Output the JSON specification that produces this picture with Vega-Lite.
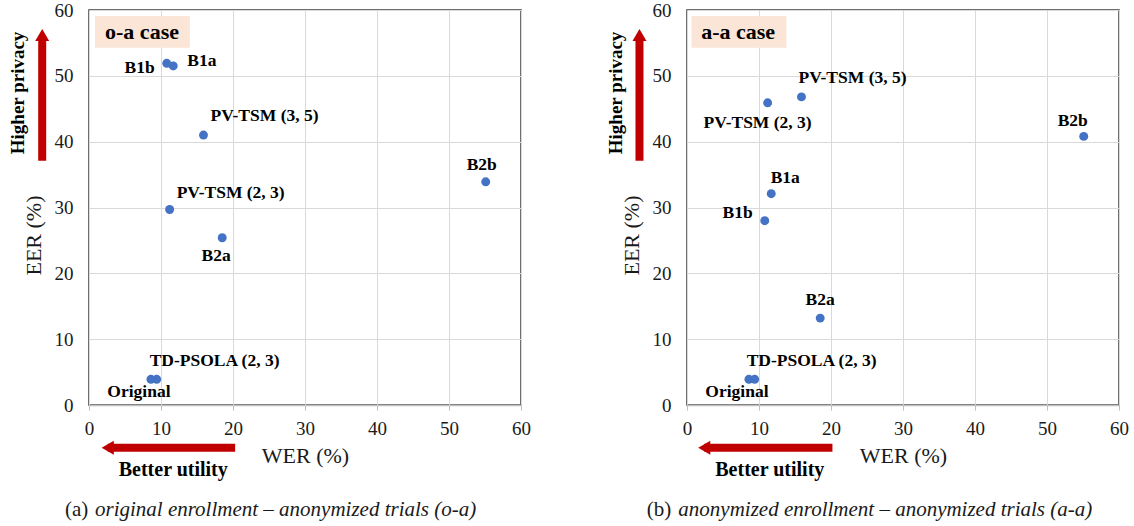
{
  "$schema": "https://vega.github.io/schema/vega-lite/v6.json",
  "padding": {"left": 7, "top": 0, "right": 0, "bottom": 0},
  "background": "white",
  "spacing": 166,
  "bounds": "flush",
  "config": {
    "font": "Liberation Serif",
    "view": {"stroke": "#404040", "strokeWidth": 1.5},
    "axis": {"labelFont": "Liberation Serif", "labelFontSize": 19, "labelColor": "#1a1a1a", "titleFont": "Liberation Serif", "titleFontSize": 22, "titleFontWeight": "normal", "titleColor": "#1a1a1a", "gridColor": "#d9d9d9", "gridWidth": 1},
    "text": {"font": "Liberation Serif", "fontSize": 17.5, "fontWeight": "bold", "color": "#000000", "baseline": "middle"}
  },
  "datasets": {
    "points": [
      {"case": "o-a", "method": "Original", "wer": 8.6, "eer": 3.9},
      {"case": "o-a", "method": "TD-PSOLA (2, 3)", "wer": 9.4, "eer": 3.9},
      {"case": "o-a", "method": "B1a", "wer": 11.7, "eer": 51.5},
      {"case": "o-a", "method": "B1b", "wer": 10.8, "eer": 51.9},
      {"case": "o-a", "method": "B2a", "wer": 18.5, "eer": 25.4},
      {"case": "o-a", "method": "B2b", "wer": 55.1, "eer": 33.9},
      {"case": "o-a", "method": "PV-TSM (2, 3)", "wer": 11.2, "eer": 29.7},
      {"case": "o-a", "method": "PV-TSM (3, 5)", "wer": 15.9, "eer": 41.0},
      {"case": "a-a", "method": "Original", "wer": 8.6, "eer": 3.9},
      {"case": "a-a", "method": "TD-PSOLA (2, 3)", "wer": 9.4, "eer": 3.9},
      {"case": "a-a", "method": "B1a", "wer": 11.7, "eer": 32.1},
      {"case": "a-a", "method": "B1b", "wer": 10.8, "eer": 28.0},
      {"case": "a-a", "method": "B2a", "wer": 18.5, "eer": 13.2},
      {"case": "a-a", "method": "B2b", "wer": 55.1, "eer": 40.8},
      {"case": "a-a", "method": "PV-TSM (2, 3)", "wer": 11.2, "eer": 45.9},
      {"case": "a-a", "method": "PV-TSM (3, 5)", "wer": 15.9, "eer": 46.8}
    ]
  },
  "hconcat": [
    {
      "width": 432, "height": 395,
      "data": {"name": "points"},
      "transform": [{"filter": "datum.case === 'o-a'"}],
      "layer": [
        {"data": {"values": [{}]}, "mark": {"type": "rect", "color": "#FBE5D6"},
         "encoding": {"x": {"datum": 0.83, "type": "quantitative", "scale": {"domain": [0, 60], "nice": false}}, "x2": {"datum": 14.0}, "y": {"datum": 59.1, "type": "quantitative", "scale": {"domain": [0, 60], "nice": false}}, "y2": {"datum": 54.25}}},
        {"data": {"values": [{}]}, "mark": {"type": "text", "text": "o-a case", "fontSize": 22, "align": "center"},
         "encoding": {"x": {"datum": 7.36, "type": "quantitative", "scale": {"domain": [0, 60], "nice": false}}, "y": {"datum": 56.7, "type": "quantitative", "scale": {"domain": [0, 60], "nice": false}}}},
        {"mark": {"type": "circle", "size": 80, "color": "#4472C4", "opacity": 1},
         "encoding": {
           "x": {"field": "wer", "type": "quantitative", "scale": {"domain": [0, 60], "nice": false},
                 "axis": {"title": "WER (%)", "values": [0, 10, 20, 30, 40, 50, 60], "tickSize": 5, "tickColor": "#bfbfbf", "domainColor": "#bfbfbf", "domainWidth": 1.5, "labelPadding": 9, "titlePadding": 7, "labelAngle": 0, "labelFlush": false, "labelOverlap": false, "grid": true, "labelFont": "Liberation Serif", "labelFontSize": 19, "labelColor": "#1a1a1a", "titleFont": "Liberation Serif", "titleFontSize": 22, "titleFontWeight": "normal", "titleColor": "#1a1a1a"}},
           "y": {"field": "eer", "type": "quantitative", "scale": {"domain": [0, 60], "nice": false},
                 "axis": {"title": "EER (%)", "values": [0, 10, 20, 30, 40, 50, 60], "ticks": false, "tickSize": 0, "domain": false, "labelPadding": 16, "titlePadding": 9, "titleY": 225, "labelFlush": false, "labelOverlap": false, "grid": true, "labelFont": "Liberation Serif", "labelFontSize": 19, "labelColor": "#1a1a1a", "titleFont": "Liberation Serif", "titleFontSize": 22, "titleFontWeight": "normal", "titleColor": "#1a1a1a", "titleLimit": 300}}
         }},
        {"transform": [{"filter": "datum.method === 'Original'"}], "mark": {"type": "text", "align": "center", "dx": -12, "dy": 13},
         "encoding": {"x": {"field": "wer", "type": "quantitative", "scale": {"domain": [0, 60], "nice": false}}, "y": {"field": "eer", "type": "quantitative", "scale": {"domain": [0, 60], "nice": false}}, "text": {"field": "method"}}},
        {"transform": [{"filter": "datum.method === 'TD-PSOLA (2, 3)'"}], "mark": {"type": "text", "align": "left", "dx": -7, "dy": -18},
         "encoding": {"x": {"field": "wer", "type": "quantitative", "scale": {"domain": [0, 60], "nice": false}}, "y": {"field": "eer", "type": "quantitative", "scale": {"domain": [0, 60], "nice": false}}, "text": {"field": "method"}}},
        {"transform": [{"filter": "datum.method === 'B1b'"}], "mark": {"type": "text", "align": "right", "dx": -12, "dy": 5},
         "encoding": {"x": {"field": "wer", "type": "quantitative", "scale": {"domain": [0, 60], "nice": false}}, "y": {"field": "eer", "type": "quantitative", "scale": {"domain": [0, 60], "nice": false}}, "text": {"field": "method"}}},
        {"transform": [{"filter": "datum.method === 'B1a'"}], "mark": {"type": "text", "align": "left", "dx": 14, "dy": -5},
         "encoding": {"x": {"field": "wer", "type": "quantitative", "scale": {"domain": [0, 60], "nice": false}}, "y": {"field": "eer", "type": "quantitative", "scale": {"domain": [0, 60], "nice": false}}, "text": {"field": "method"}}},
        {"transform": [{"filter": "datum.method === 'PV-TSM (3, 5)'"}], "mark": {"type": "text", "align": "left", "dx": 7, "dy": -19},
         "encoding": {"x": {"field": "wer", "type": "quantitative", "scale": {"domain": [0, 60], "nice": false}}, "y": {"field": "eer", "type": "quantitative", "scale": {"domain": [0, 60], "nice": false}}, "text": {"field": "method"}}},
        {"transform": [{"filter": "datum.method === 'PV-TSM (2, 3)'"}], "mark": {"type": "text", "align": "left", "dx": 7, "dy": -16},
         "encoding": {"x": {"field": "wer", "type": "quantitative", "scale": {"domain": [0, 60], "nice": false}}, "y": {"field": "eer", "type": "quantitative", "scale": {"domain": [0, 60], "nice": false}}, "text": {"field": "method"}}},
        {"transform": [{"filter": "datum.method === 'B2a'"}], "mark": {"type": "text", "align": "center", "dx": -6, "dy": 18},
         "encoding": {"x": {"field": "wer", "type": "quantitative", "scale": {"domain": [0, 60], "nice": false}}, "y": {"field": "eer", "type": "quantitative", "scale": {"domain": [0, 60], "nice": false}}, "text": {"field": "method"}}},
        {"transform": [{"filter": "datum.method === 'B2b'"}], "mark": {"type": "text", "align": "center", "dx": -4, "dy": -17},
         "encoding": {"x": {"field": "wer", "type": "quantitative", "scale": {"domain": [0, 60], "nice": false}}, "y": {"field": "eer", "type": "quantitative", "scale": {"domain": [0, 60], "nice": false}}, "text": {"field": "method"}}},
        {"data": {"values": [{}]}, "mark": {"type": "rule", "color": "#C00000", "strokeWidth": 8, "strokeCap": "butt"},
         "encoding": {"x": {"datum": -6.5, "type": "quantitative", "scale": {"domain": [0, 60], "nice": false}}, "y": {"datum": 37.1, "type": "quantitative", "scale": {"domain": [0, 60], "nice": false}}, "y2": {"datum": 55.8}}},
        {"data": {"values": [{}]}, "mark": {"type": "point", "shape": "triangle-up", "filled": true, "size": 196, "color": "#C00000", "opacity": 1},
         "encoding": {"x": {"datum": -6.5, "type": "quantitative", "scale": {"domain": [0, 60], "nice": false}}, "y": {"datum": 56.2, "type": "quantitative", "scale": {"domain": [0, 60], "nice": false}}}},
        {"data": {"values": [{}]}, "mark": {"type": "text", "text": "Higher privacy", "fontSize": 19, "angle": 270, "align": "center"},
         "encoding": {"x": {"datum": -9.9, "type": "quantitative", "scale": {"domain": [0, 60], "nice": false}}, "y": {"datum": 47.4, "type": "quantitative", "scale": {"domain": [0, 60], "nice": false}}}},
        {"data": {"values": [{}]}, "mark": {"type": "rule", "color": "#C00000", "strokeWidth": 8, "strokeCap": "butt"},
         "encoding": {"x": {"datum": 2.6, "type": "quantitative", "scale": {"domain": [0, 60], "nice": false}}, "x2": {"datum": 20.3}, "y": {"datum": -6.5, "type": "quantitative", "scale": {"domain": [0, 60], "nice": false}}}},
        {"data": {"values": [{}]}, "mark": {"type": "point", "shape": "triangle-left", "filled": true, "size": 196, "color": "#C00000", "opacity": 1},
         "encoding": {"x": {"datum": 2.6, "type": "quantitative", "scale": {"domain": [0, 60], "nice": false}}, "y": {"datum": -6.5, "type": "quantitative", "scale": {"domain": [0, 60], "nice": false}}}},
        {"data": {"values": [{}]}, "mark": {"type": "text", "text": "Better utility", "fontSize": 20, "align": "center"},
         "encoding": {"x": {"datum": 11.7, "type": "quantitative", "scale": {"domain": [0, 60], "nice": false}}, "y": {"datum": -9.8, "type": "quantitative", "scale": {"domain": [0, 60], "nice": false}}}},
        {"data": {"values": [{}]}, "mark": {"type": "text", "text": "(a)", "fontSize": 21, "fontWeight": "normal", "align": "left", "color": "#1a1a1a"},
         "encoding": {"x": {"datum": -3.33, "type": "quantitative", "scale": {"domain": [0, 60], "nice": false}}, "y": {"datum": -16.0, "type": "quantitative", "scale": {"domain": [0, 60], "nice": false}}}},
        {"data": {"values": [{}]}, "mark": {"type": "text", "text": "original enrollment – anonymized trials (o-a)", "fontSize": 21, "fontWeight": "normal", "fontStyle": "italic", "align": "left", "color": "#1a1a1a"},
         "encoding": {"x": {"datum": 0.83, "type": "quantitative", "scale": {"domain": [0, 60], "nice": false}}, "y": {"datum": -16.0, "type": "quantitative", "scale": {"domain": [0, 60], "nice": false}}}}
      ]
    },
    {
      "width": 432, "height": 395,
      "data": {"name": "points"},
      "transform": [{"filter": "datum.case === 'a-a'"}],
      "layer": [
        {"data": {"values": [{}]}, "mark": {"type": "rect", "color": "#FBE5D6"},
         "encoding": {"x": {"datum": 0.62, "type": "quantitative", "scale": {"domain": [0, 60], "nice": false}}, "x2": {"datum": 13.8}, "y": {"datum": 59.1, "type": "quantitative", "scale": {"domain": [0, 60], "nice": false}}, "y2": {"datum": 54.25}}},
        {"data": {"values": [{}]}, "mark": {"type": "text", "text": "a-a case", "fontSize": 22, "align": "center"},
         "encoding": {"x": {"datum": 7.1, "type": "quantitative", "scale": {"domain": [0, 60], "nice": false}}, "y": {"datum": 56.7, "type": "quantitative", "scale": {"domain": [0, 60], "nice": false}}}},
        {"mark": {"type": "circle", "size": 80, "color": "#4472C4", "opacity": 1},
         "encoding": {
           "x": {"field": "wer", "type": "quantitative", "scale": {"domain": [0, 60], "nice": false},
                 "axis": {"title": "WER (%)", "values": [0, 10, 20, 30, 40, 50, 60], "tickSize": 5, "tickColor": "#bfbfbf", "domainColor": "#bfbfbf", "domainWidth": 1.5, "labelPadding": 9, "titlePadding": 7, "labelAngle": 0, "labelFlush": false, "labelOverlap": false, "grid": true, "labelFont": "Liberation Serif", "labelFontSize": 19, "labelColor": "#1a1a1a", "titleFont": "Liberation Serif", "titleFontSize": 22, "titleFontWeight": "normal", "titleColor": "#1a1a1a"}},
           "y": {"field": "eer", "type": "quantitative", "scale": {"domain": [0, 60], "nice": false},
                 "axis": {"title": "EER (%)", "values": [0, 10, 20, 30, 40, 50, 60], "ticks": false, "tickSize": 0, "domain": false, "labelPadding": 16, "titlePadding": 9, "titleY": 225, "labelFlush": false, "labelOverlap": false, "grid": true, "labelFont": "Liberation Serif", "labelFontSize": 19, "labelColor": "#1a1a1a", "titleFont": "Liberation Serif", "titleFontSize": 22, "titleFontWeight": "normal", "titleColor": "#1a1a1a", "titleLimit": 300}}
         }},
        {"transform": [{"filter": "datum.method === 'Original'"}], "mark": {"type": "text", "align": "center", "dx": -12, "dy": 13},
         "encoding": {"x": {"field": "wer", "type": "quantitative", "scale": {"domain": [0, 60], "nice": false}}, "y": {"field": "eer", "type": "quantitative", "scale": {"domain": [0, 60], "nice": false}}, "text": {"field": "method"}}},
        {"transform": [{"filter": "datum.method === 'TD-PSOLA (2, 3)'"}], "mark": {"type": "text", "align": "left", "dx": -8, "dy": -18},
         "encoding": {"x": {"field": "wer", "type": "quantitative", "scale": {"domain": [0, 60], "nice": false}}, "y": {"field": "eer", "type": "quantitative", "scale": {"domain": [0, 60], "nice": false}}, "text": {"field": "method"}}},
        {"transform": [{"filter": "datum.method === 'B1b'"}], "mark": {"type": "text", "align": "right", "dx": -12, "dy": -8},
         "encoding": {"x": {"field": "wer", "type": "quantitative", "scale": {"domain": [0, 60], "nice": false}}, "y": {"field": "eer", "type": "quantitative", "scale": {"domain": [0, 60], "nice": false}}, "text": {"field": "method"}}},
        {"transform": [{"filter": "datum.method === 'B1a'"}], "mark": {"type": "text", "align": "center", "dx": 14, "dy": -16},
         "encoding": {"x": {"field": "wer", "type": "quantitative", "scale": {"domain": [0, 60], "nice": false}}, "y": {"field": "eer", "type": "quantitative", "scale": {"domain": [0, 60], "nice": false}}, "text": {"field": "method"}}},
        {"transform": [{"filter": "datum.method === 'PV-TSM (3, 5)'"}], "mark": {"type": "text", "align": "left", "dx": -3, "dy": -19},
         "encoding": {"x": {"field": "wer", "type": "quantitative", "scale": {"domain": [0, 60], "nice": false}}, "y": {"field": "eer", "type": "quantitative", "scale": {"domain": [0, 60], "nice": false}}, "text": {"field": "method"}}},
        {"transform": [{"filter": "datum.method === 'PV-TSM (2, 3)'"}], "mark": {"type": "text", "align": "center", "dx": -10, "dy": 20},
         "encoding": {"x": {"field": "wer", "type": "quantitative", "scale": {"domain": [0, 60], "nice": false}}, "y": {"field": "eer", "type": "quantitative", "scale": {"domain": [0, 60], "nice": false}}, "text": {"field": "method"}}},
        {"transform": [{"filter": "datum.method === 'B2a'"}], "mark": {"type": "text", "align": "center", "dx": 0, "dy": -18},
         "encoding": {"x": {"field": "wer", "type": "quantitative", "scale": {"domain": [0, 60], "nice": false}}, "y": {"field": "eer", "type": "quantitative", "scale": {"domain": [0, 60], "nice": false}}, "text": {"field": "method"}}},
        {"transform": [{"filter": "datum.method === 'B2b'"}], "mark": {"type": "text", "align": "center", "dx": -11, "dy": -15},
         "encoding": {"x": {"field": "wer", "type": "quantitative", "scale": {"domain": [0, 60], "nice": false}}, "y": {"field": "eer", "type": "quantitative", "scale": {"domain": [0, 60], "nice": false}}, "text": {"field": "method"}}},
        {"data": {"values": [{}]}, "mark": {"type": "rule", "color": "#C00000", "strokeWidth": 8, "strokeCap": "butt"},
         "encoding": {"x": {"datum": -6.6, "type": "quantitative", "scale": {"domain": [0, 60], "nice": false}}, "y": {"datum": 37.1, "type": "quantitative", "scale": {"domain": [0, 60], "nice": false}}, "y2": {"datum": 55.8}}},
        {"data": {"values": [{}]}, "mark": {"type": "point", "shape": "triangle-up", "filled": true, "size": 196, "color": "#C00000", "opacity": 1},
         "encoding": {"x": {"datum": -6.6, "type": "quantitative", "scale": {"domain": [0, 60], "nice": false}}, "y": {"datum": 56.2, "type": "quantitative", "scale": {"domain": [0, 60], "nice": false}}}},
        {"data": {"values": [{}]}, "mark": {"type": "text", "text": "Higher privacy", "fontSize": 19, "angle": 270, "align": "center"},
         "encoding": {"x": {"datum": -9.8, "type": "quantitative", "scale": {"domain": [0, 60], "nice": false}}, "y": {"datum": 47.4, "type": "quantitative", "scale": {"domain": [0, 60], "nice": false}}}},
        {"data": {"values": [{}]}, "mark": {"type": "rule", "color": "#C00000", "strokeWidth": 8, "strokeCap": "butt"},
         "encoding": {"x": {"datum": 2.4, "type": "quantitative", "scale": {"domain": [0, 60], "nice": false}}, "x2": {"datum": 20.2}, "y": {"datum": -6.5, "type": "quantitative", "scale": {"domain": [0, 60], "nice": false}}}},
        {"data": {"values": [{}]}, "mark": {"type": "point", "shape": "triangle-left", "filled": true, "size": 196, "color": "#C00000", "opacity": 1},
         "encoding": {"x": {"datum": 2.4, "type": "quantitative", "scale": {"domain": [0, 60], "nice": false}}, "y": {"datum": -6.5, "type": "quantitative", "scale": {"domain": [0, 60], "nice": false}}}},
        {"data": {"values": [{}]}, "mark": {"type": "text", "text": "Better utility", "fontSize": 20, "align": "center"},
         "encoding": {"x": {"datum": 11.5, "type": "quantitative", "scale": {"domain": [0, 60], "nice": false}}, "y": {"datum": -9.8, "type": "quantitative", "scale": {"domain": [0, 60], "nice": false}}}},
        {"data": {"values": [{}]}, "mark": {"type": "text", "text": "(b)", "fontSize": 21, "fontWeight": "normal", "align": "left", "color": "#1a1a1a"},
         "encoding": {"x": {"datum": -5.6, "type": "quantitative", "scale": {"domain": [0, 60], "nice": false}}, "y": {"datum": -16.0, "type": "quantitative", "scale": {"domain": [0, 60], "nice": false}}}},
        {"data": {"values": [{}]}, "mark": {"type": "text", "text": "anonymized enrollment – anonymized trials (a-a)", "fontSize": 21, "fontWeight": "normal", "fontStyle": "italic", "align": "left", "color": "#1a1a1a"},
         "encoding": {"x": {"datum": -1.2, "type": "quantitative", "scale": {"domain": [0, 60], "nice": false}}, "y": {"datum": -16.0, "type": "quantitative", "scale": {"domain": [0, 60], "nice": false}}}}
      ]
    }
  ]
}
